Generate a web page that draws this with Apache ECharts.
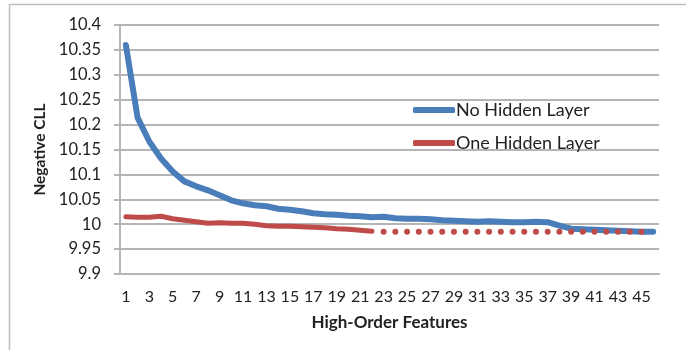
<!DOCTYPE html>
<html><head><meta charset="utf-8">
<script src="https://cdn.jsdelivr.net/npm/echarts@6/dist/echarts.min.js"></script>
<style>html,body{margin:0;padding:0;background:#fff}#c{width:686px;height:350px}</style>
</head><body><div id="c"></div>
<script>
var categories = [];
for (var k = 1; k <= 46; k++) categories.push(String(k));
var noHidden = [10.36,10.214,10.166,10.132,10.106,10.086,10.076,10.068,10.058,10.048,
  10.042,10.038,10.036,10.031,10.029,10.026,10.022,10.02,10.019,10.017,
  10.016,10.014,10.015,10.012,10.011,10.011,10.01,10.008,10.007,10.006,
  10.005,10.006,10.005,10.004,10.004,10.005,10.004,9.997,9.991,9.990,
  9.989,9.988,9.987,9.986,9.985,9.985];
var oneHiddenSolid = [10.015,10.014,10.014,10.016,10.011,10.008,10.005,10.002,10.003,10.002,
  10.002,10.0,9.997,9.996,9.996,9.995,9.994,9.993,9.991,9.990,
  9.988,9.986];
var oneHiddenDotted = [9.985,9.985,9.985,9.985,9.985,9.985,9.985,9.985,9.985,9.985,
  9.985,9.985,9.985,9.985,9.985,9.985,9.985,9.985,9.985,9.985,9.985,9.985,9.985];
var yTicks = {min: 9.9, max: 10.4, step: 0.05};

var dottedData = [];
for (var i = 0; i < 22; i++) dottedData.push('-');
dottedData = dottedData.concat(oneHiddenDotted);

var font = 'Lato, "Open Sans", sans-serif';
var chart = echarts.init(document.getElementById('c'), null, {renderer: 'canvas'});
chart.setOption({
  animation: false,
  backgroundColor: '#fff',
  graphic: [{
    type: 'rect', shape: {x: 9.5, y: 4.5, width: 900, height: 600},
    style: {fill: 'none', stroke: '#bdbdbd', lineWidth: 1.5}, silent: true, z: -10
  }],
  grid: {left: 120, right: 27, top: 25, bottom: 76},
  legend: {
    data: ['No Hidden Layer', 'One Hidden Layer'],
    orient: 'vertical', left: 408, top: 96, itemGap: 15,
    itemWidth: 42, itemHeight: 6, icon: 'roundRect',
    textStyle: {fontFamily: font, fontSize: 18, color: '#222', padding: [0,0,0,-4]}
  },
  xAxis: {
    type: 'category', data: categories, boundaryGap: true,
    name: 'High-Order Features', nameLocation: 'middle', nameGap: 40,
    nameTextStyle: {fontFamily: font, fontSize: 17, fontWeight: 'bold', color: '#222'},
    axisLine: {lineStyle: {color: '#b5b5b5', width: 2}},
    axisTick: {show: false},
    axisLabel: {interval: 1, fontFamily: font, fontSize: 16, color: '#222', margin: 15}
  },
  yAxis: {
    type: 'value', min: yTicks.min, max: yTicks.max, interval: yTicks.step,
    name: 'Negative CLL', nameLocation: 'middle', nameGap: 72, nameRotate: 90,
    nameTextStyle: {fontFamily: font, fontSize: 15.5, fontWeight: 'bold', color: '#222'},
    axisLine: {show: true, lineStyle: {color: '#b5b5b5', width: 2}},
    axisTick: {show: true, length: 6, lineStyle: {color: '#b5b5b5', width: 2}},
    splitLine: {lineStyle: {color: '#b5b5b5', width: 2}},
    axisLabel: {fontFamily: font, fontSize: 16.5, color: '#222', margin: 19,
      formatter: function (v) { return String(Number(v.toFixed(2))); }}
  },
  series: [
    {name: 'No Hidden Layer', type: 'line', data: noHidden, showSymbol: false,
      itemStyle: {color: '#4a7ebb'}, lineStyle: {color: '#4a7ebb', width: 6, cap: 'round', join: 'round'}, z: 3},
    {name: 'One Hidden Layer', type: 'line', data: oneHiddenSolid, showSymbol: false,
      itemStyle: {color: '#be4b48'}, lineStyle: {color: '#be4b48', width: 5, cap: 'round', join: 'round'}, z: 4},
    {name: 'One Hidden Layer (dotted)', type: 'line', data: dottedData, showSymbol: true,
      symbol: 'circle', symbolSize: 6, itemStyle: {color: '#be4b48'},
      lineStyle: {opacity: 0}, z: 5}
  ]
});
</script></body></html>
